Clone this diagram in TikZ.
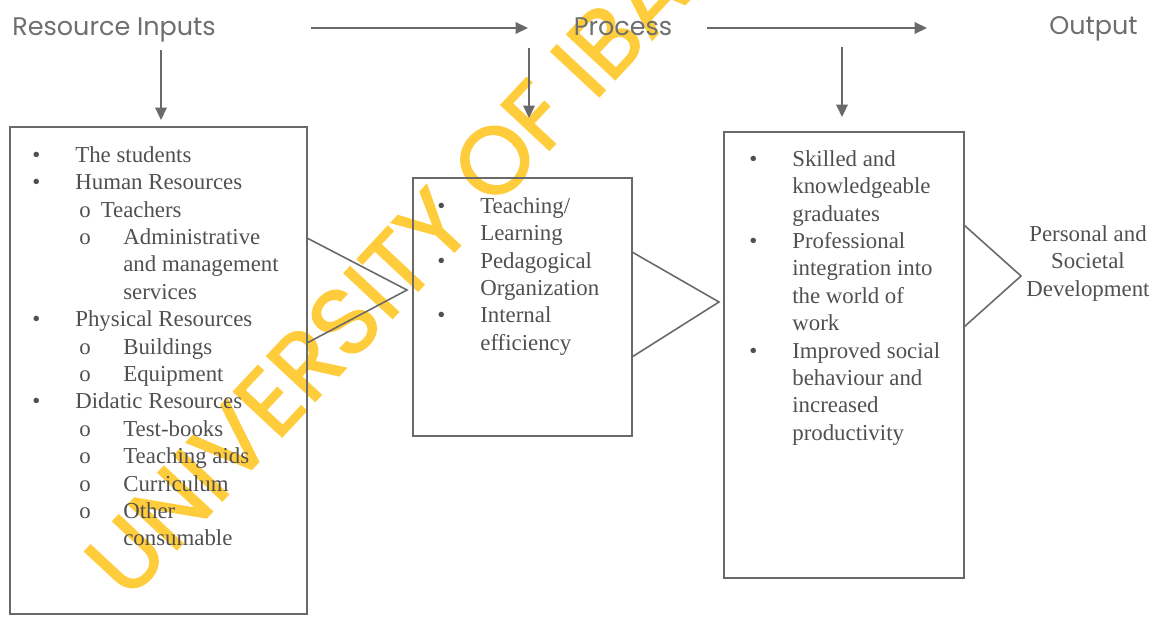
\documentclass[tikz,border=0pt]{standalone}
\usepackage{fontspec}
\setmainfont{Liberation Serif}
\newfontfamily\headfont{Poppins}
\newfontfamily\markfont[FakeBold=1.6]{Poppins}
\usetikzlibrary{arrows.meta}

\definecolor{linegray}{RGB}{105,105,105}
\definecolor{textgray}{RGB}{80,80,80}
\definecolor{headgray}{RGB}{110,110,110}
\definecolor{wmyellow}{RGB}{255,204,60}

\newcommand\itm{\llap{\textbullet\hspace{0.7cm}}}
\newcommand\subo[1]{\makebox[0.96cm][l]{\hspace{0.08cm}o}#1}
\newcommand\cont{\hspace*{0.96cm}}

\begin{document}
\begin{tikzpicture}[x=0.02cm, y=-0.02cm,
  box/.style={draw=linegray, line width=0.9pt, inner sep=0pt},
  arr/.style={draw=linegray, line width=0.9pt, -{Triangle[length=7pt,width=6.5pt]}},
  chev/.style={draw=linegray, line width=0.9pt},
  head/.style={font=\headfont\fontsize{14.5}{17}\selectfont, text=headgray, inner sep=0pt},
  list/.style={font=\fontsize{13}{15.6}\selectfont, text=textgray, align=left, inner sep=0pt}]
  \useasboundingbox (0,0) rectangle (1162,617);

  % watermark
  \node[rotate=47, anchor=base west, text=wmyellow, inner sep=0pt,
        font=\markfont\fontsize{54}{56}\selectfont] (W) at (128,602) {UNIVERSITY OF IBADAN};

  % headings
  \node[head, anchor=base west] (Hin) at (12,36) {Resource Inputs};
  \node[head, anchor=base] (Hpr) at (623,36) {Process};
  \node[head, anchor=base east] (Hout) at (1138,35) {Output};

  % boxes
  \node[box, minimum width=5.94cm, minimum height=9.74cm] (I) at (158.5,370.5) {};
  \node[box, minimum width=4.38cm, minimum height=5.16cm] (P) at (522.5,307) {};
  \node[box, minimum width=4.8cm, minimum height=8.92cm] (O) at (844,355) {};

  % arrows
  \coordinate (h1) at (311,28);  \coordinate (h1e) at (528,28);
  \coordinate (h2) at (707,28);  \coordinate (h2e) at (927,28);
  \coordinate (v1) at (161,50);  \coordinate (v1e) at (161,120);
  \coordinate (v2) at (529,48);  \coordinate (v2e) at (529,118);
  \coordinate (v3) at (842,47);  \coordinate (v3e) at (842,117);
  \draw[arr] (h1) -- (h1e);
  \draw[arr] (h2) -- (h2e);
  \draw[arr] (v1) -- (v1e);
  \draw[arr] (v2) -- (v2e);
  \draw[arr] (v3) -- (v3e);

  % chevrons
  \draw[chev] (307,238) -- (407,290) -- (307,343);
  \draw[chev] (632,252) -- (719,302) -- (632,357);
  \draw[chev] (964,225) -- (1021,276) -- (964,327);

  % lists
  \node[list, anchor=north west] (Li) at (75,146) {%
    \itm The students\\
    \itm Human Resources\\
    \hspace*{0.08cm}o\hspace{0.2cm}Teachers\\
    \subo{Administrative}\\
    \cont and management\\
    \cont services\\
    \itm Physical Resources\\
    \subo{Buildings}\\
    \subo{Equipment}\\
    \itm Didatic Resources\\
    \subo{Test-books}\\
    \subo{Teaching aids}\\
    \subo{Curriculum}\\
    \subo{Other}\\
    \cont consumable};

  \node[list, anchor=north west] (Lp) at (480,197) {%
    \itm Teaching/\\
    Learning\\
    \itm Pedagogical\\
    Organization\\
    \itm Internal\\
    efficiency};

  \node[list, anchor=north west] (Lo) at (792,150) {%
    \itm Skilled and\\
    knowledgeable\\
    graduates\\
    \itm Professional\\
    integration into\\
    the world of\\
    work\\
    \itm Improved social\\
    behaviour and\\
    increased\\
    productivity};

  \node[list, align=center, anchor=north] (D) at (1088,225) {%
    Personal and\\
    Societal\\
    Development};

\end{tikzpicture}
\end{document}
